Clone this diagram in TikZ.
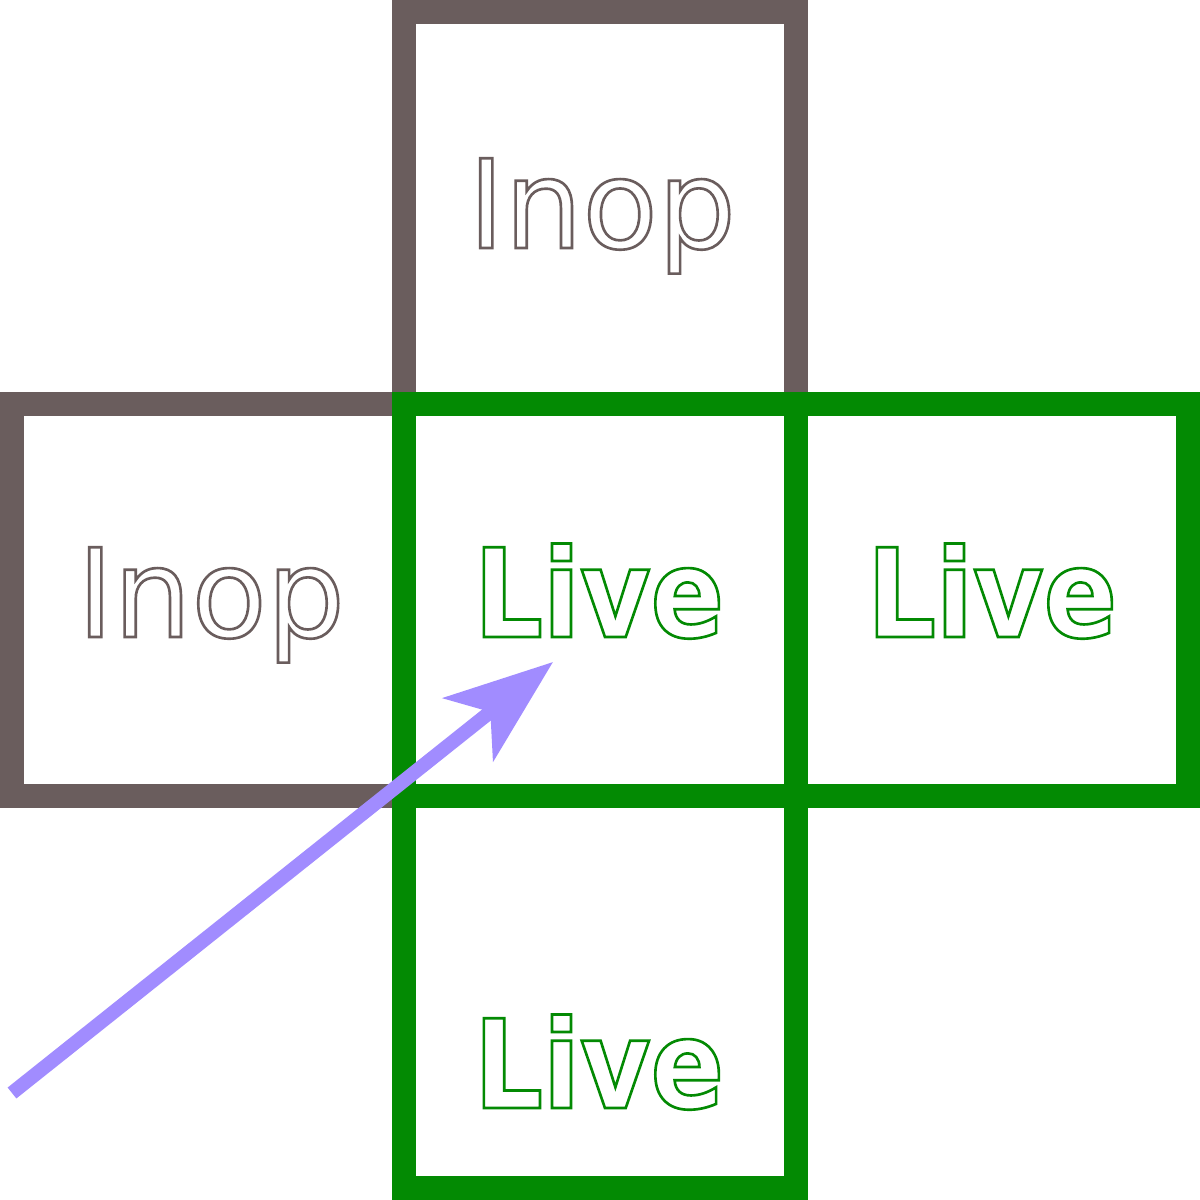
\documentclass[tikz,border=0pt]{standalone}
\usepackage{fontspec}
\setmainfont{DejaVu Sans}
\newfontfamily\livefont[FakeStretch=0.88]{DejaVu Sans}
\usetikzlibrary{arrows.meta}

\definecolor{inopgray}{RGB}{106,93,93}
\definecolor{livegreen}{RGB}{3,138,3}
\definecolor{pointerviolet}{RGB}{161,140,255}

% stroke the glyphs only (text render mode 1)
\newcommand{\hollow}[1]{\special{pdf:literal direct 1 Tr 0.75 w}#1\special{pdf:literal direct 0 Tr}}

\tikzset{
    cell/.style = {rectangle, minimum size = 3.92cm, inner sep = 0pt,
                   line width = 0.24cm, fill = white},
    inopcell/.style = {cell, draw = inopgray},
    livecell/.style = {cell, draw = livegreen},
    inoptext/.style = {anchor = base, inner sep = 0pt, text = inopgray,
                       font = \fontsize{35}{42}\selectfont},
    livetext/.style = {anchor = base, inner sep = 0pt, text = livegreen,
                       font = \livefont\bfseries\fontsize{35}{42}\selectfont},
    pointer/.style = {draw = pointerviolet, line width = 0.14cm,
                      -{Stealth[length = 1.08cm, width = 0.8cm, inset = 0.28cm]}}
}

\begin{document}
\begin{tikzpicture}[x = 0.01cm, y = -0.01cm]

    \useasboundingbox (0,0) rectangle (1200,1200);

    % inoperative cells
    \node[inopcell] (Inop_top)  at (600,208) {};
    \node[inopcell] (Inop_left) at (208,600) {};

    % live cells
    \node[livecell] (Live_mid)    at (600,600) {};
    \node[livecell] (Live_right)  at (992,600) {};
    \node[livecell] (Live_bottom) at (600,992) {};

    % labels
    \node[inoptext] (Inop_top_label)  at (602,248) {\hollow{Inop}};
    \node[inoptext] (Inop_left_label) at (211,637) {\hollow{Inop}};
    \node[livetext] (Live_mid_label)    at (599,637)  {\hollow{Live}};
    \node[livetext] (Live_right_label)  at (992,637)  {\hollow{Live}};
    \node[livetext] (Live_bottom_label) at (599,1108) {\hollow{Live}};

    % pointer into the live cell
    \coordinate (Pointer_tail) at (12,1093);
    \coordinate (Pointer_tip)  at (553,662);
    \draw[pointer] (Pointer_tail) -- (Pointer_tip);

\end{tikzpicture}
\end{document}
